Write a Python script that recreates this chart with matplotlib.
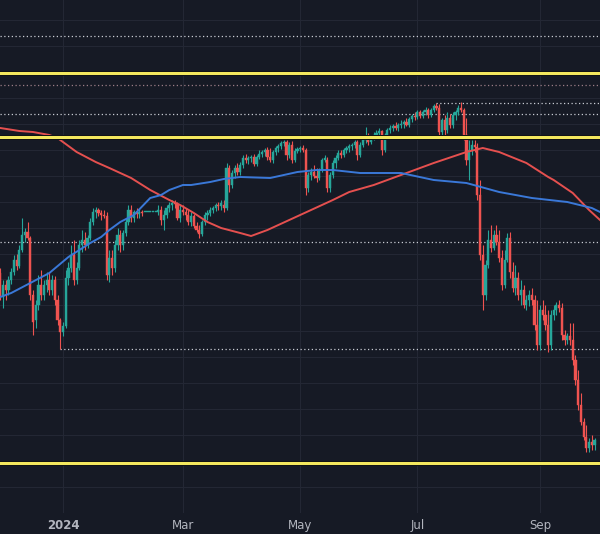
import numpy as np
import matplotlib.pyplot as plt
import matplotlib.patheffects as pe

# daily candles, price units (chart has no price scale)
opens = [32.7, 30.3, 31.5, 31.0, 32.0, 32.8, 34.0, 33.4, 35.0, 36.5, 36.8, 36.2, 30.5, 28.0, 29.5, 31.5, 30.5, 31.5, 32.0, 31.0,
         32.0, 30.0, 28.0, 26.8, 27.4, 32.2, 33.2, 34.5, 32.0, 33.2, 35.5, 36.0, 35.5, 36.2, 37.8, 38.8, 39.0, 38.7, 38.5, 38.4,
         32.5, 34.2, 33.2, 35.5, 36.5, 35.5, 36.7, 37.8, 39.0, 38.2, 38.8, 38.6, 38.8, 38.8, 38.8, 38.8, 38.8, 38.8, 38.8, 39.0,
         38.0, 38.5, 39.2, 39.5, 39.7, 39.6, 38.2, 39.0, 38.8, 38.5, 37.8, 38.4, 37.4, 37.0, 36.6, 37.8, 38.5, 38.7, 39.0, 39.2,
         39.5, 39.4, 39.5, 39.2, 43.2, 41.5, 42.7, 43.2, 42.8, 43.5, 44.2, 44.0, 44.2, 44.3, 43.6, 44.3, 44.6, 44.8, 45.0, 44.3,
         44.0, 44.8, 45.2, 45.4, 45.7, 45.8, 44.5, 45.5, 44.0, 44.9, 45.1, 45.2, 45.0, 41.2, 42.5, 42.8, 42.4, 42.2, 43.0, 44.0,
         44.0, 41.2, 42.5, 43.7, 44.2, 44.7, 44.5, 45.0, 45.2, 45.4, 45.5, 45.8, 44.5, 45.5, 46.0, 46.3, 45.8, 46.3, 46.5, 46.7,
         46.9, 45.0, 46.5, 47.0, 47.2, 47.4, 47.2, 47.5, 47.6, 47.8, 47.5, 48.1, 48.4, 48.3, 48.8, 48.4, 48.8, 49.0, 48.5, 49.0,
         49.4, 49.2, 46.8, 48.0, 47.0, 48.2, 47.5, 48.5, 48.8, 49.2, 49.0, 46.5, 44.0, 45.0, 45.5, 45.3, 40.5, 34.5, 30.5, 33.5,
         36.0, 35.2, 36.5, 35.8, 34.2, 31.5, 34.0, 36.2, 32.8, 31.2, 32.2, 30.5, 31.0, 29.5, 30.0, 30.5, 30.0, 27.5, 25.5, 29.0,
         28.5, 27.5, 25.5, 28.5, 29.0, 29.5, 29.2, 26.5, 26.0, 26.4, 26.0, 24.0, 22.0, 19.5, 17.8, 16.3, 15.2, 15.8, 15.5]
highs = [33.2, 32.0, 32.0, 32.4, 33.2, 34.5, 34.6, 35.5, 38.2, 37.2, 37.8, 36.4, 31.0, 30.0, 32.5, 33.0, 32.0, 32.8, 32.8, 32.5,
         32.4, 30.5, 28.2, 27.8, 33.0, 33.8, 35.5, 36.0, 33.8, 36.0, 37.0, 36.8, 36.5, 38.2, 39.2, 39.3, 39.2, 39.0, 39.0, 38.8,
         35.0, 35.0, 36.0, 37.2, 37.0, 37.0, 38.2, 39.5, 39.5, 39.0, 39.2, 39.1, 39.0, 38.8, 38.8, 38.8, 38.8, 38.8, 39.5, 39.4,
         39.0, 39.5, 39.8, 40.0, 40.0, 39.8, 39.5, 39.5, 39.2, 39.0, 38.8, 38.6, 37.8, 37.5, 38.0, 38.8, 39.0, 39.3, 39.4, 39.7,
         39.8, 40.0, 40.0, 43.7, 43.5, 43.0, 43.5, 43.7, 43.8, 44.5, 44.6, 44.4, 44.5, 44.6, 44.5, 45.0, 45.0, 45.2, 45.3, 45.2,
         45.0, 45.4, 45.6, 45.9, 46.0, 46.0, 45.8, 45.9, 45.2, 45.3, 45.4, 45.5, 45.2, 42.8, 43.2, 43.5, 43.2, 43.2, 44.2, 44.5,
         44.3, 42.8, 44.0, 44.5, 45.0, 45.0, 45.2, 45.4, 45.6, 45.7, 46.0, 46.0, 45.8, 46.2, 47.3, 46.7, 46.5, 46.8, 47.0, 47.2,
         47.0, 46.7, 47.2, 47.5, 47.6, 47.8, 47.7, 48.0, 48.0, 48.2, 48.3, 48.6, 48.8, 49.0, 49.0, 49.0, 49.3, 49.2, 49.2, 49.6,
         49.7, 49.6, 48.2, 48.5, 48.8, 48.6, 48.8, 49.0, 49.5, 49.8, 49.2, 48.2, 46.0, 46.0, 46.0, 45.7, 42.0, 35.5, 34.0, 37.0,
         37.5, 37.0, 37.5, 37.0, 35.0, 35.0, 36.7, 36.8, 33.8, 33.5, 32.8, 32.0, 31.5, 30.5, 31.0, 31.2, 30.5, 30.0, 29.5, 30.0,
         29.5, 29.0, 29.0, 29.5, 29.8, 30.0, 29.7, 27.0, 26.7, 27.7, 27.7, 24.5, 23.0, 20.7, 18.2, 17.5, 16.2, 16.5, 16.2]
lows = [30.0, 29.2, 30.0, 30.5, 31.6, 32.5, 33.0, 33.2, 34.8, 35.8, 36.0, 30.0, 26.5, 27.2, 29.0, 30.0, 30.0, 30.8, 30.5, 30.5,
        29.5, 27.5, 25.1, 26.4, 27.2, 31.5, 32.8, 31.5, 31.6, 33.0, 34.8, 35.0, 35.2, 36.0, 37.5, 38.2, 38.4, 38.0, 38.2, 32.0,
        31.8, 32.5, 32.8, 35.0, 34.8, 35.0, 36.4, 37.5, 37.8, 37.8, 38.2, 38.2, 38.4, 38.8, 38.8, 38.8, 38.8, 38.8, 38.5, 37.5,
        37.0, 38.2, 38.8, 39.0, 39.2, 38.0, 37.8, 38.5, 38.0, 37.5, 37.4, 37.2, 36.8, 36.2, 36.4, 37.5, 38.0, 38.4, 38.7, 38.9,
        39.0, 39.0, 38.8, 39.0, 40.8, 41.2, 42.2, 42.5, 42.5, 43.2, 43.7, 43.6, 43.8, 43.4, 43.4, 44.1, 44.3, 44.4, 44.0, 43.8,
        43.7, 44.5, 44.8, 45.1, 45.4, 44.0, 44.2, 43.7, 43.8, 44.7, 44.8, 44.8, 40.5, 40.8, 42.0, 42.2, 41.8, 42.0, 42.8, 43.8,
        40.8, 40.8, 42.2, 43.2, 44.0, 44.2, 44.3, 44.7, 44.8, 45.0, 45.2, 44.0, 44.3, 45.3, 45.7, 45.5, 45.6, 46.0, 46.2, 46.4,
        44.5, 44.8, 46.3, 46.7, 46.9, 47.0, 46.9, 47.2, 47.2, 47.4, 47.3, 47.8, 48.0, 48.1, 48.2, 48.2, 48.5, 48.2, 48.3, 48.8,
        49.0, 46.3, 46.3, 46.5, 46.7, 47.2, 47.2, 48.0, 48.5, 48.8, 46.0, 43.5, 42.0, 44.5, 44.8, 40.0, 34.0, 29.0, 30.0, 33.2,
        34.8, 35.0, 35.5, 33.8, 31.0, 31.2, 33.8, 32.2, 30.8, 30.5, 30.0, 29.5, 29.2, 29.0, 29.4, 29.5, 27.0, 25.0, 25.0, 28.0,
        27.0, 24.8, 25.0, 28.0, 28.5, 28.8, 26.0, 25.5, 25.6, 25.5, 23.5, 21.5, 19.0, 17.5, 16.0, 14.8, 14.8, 15.0, 15.0]
closes = [30.3, 31.5, 31.0, 32.0, 32.8, 34.0, 33.4, 35.0, 36.5, 36.8, 36.2, 30.5, 27.8, 29.5, 31.5, 30.5, 31.5, 32.0, 31.0, 32.0,
          30.0, 28.0, 26.8, 27.4, 32.2, 33.2, 34.5, 32.0, 33.2, 35.5, 36.0, 35.5, 36.2, 37.8, 38.8, 39.0, 38.7, 38.5, 38.4, 32.5,
          34.2, 33.2, 35.5, 36.5, 35.5, 36.7, 37.8, 39.0, 38.2, 38.8, 38.6, 38.8, 38.7, 38.8, 38.8, 38.8, 38.8, 38.8, 39.0, 38.0,
          38.5, 39.2, 39.5, 39.7, 39.6, 38.2, 39.0, 38.8, 38.5, 37.8, 38.4, 37.4, 37.0, 36.6, 37.8, 38.5, 38.7, 39.0, 39.2, 39.5,
          39.4, 39.7, 39.2, 43.2, 41.5, 42.7, 43.2, 42.8, 43.5, 44.2, 44.0, 44.2, 44.3, 43.6, 44.3, 44.6, 44.8, 45.0, 44.3, 44.0,
          44.8, 45.2, 45.4, 45.7, 45.8, 44.5, 45.5, 44.0, 44.9, 45.1, 45.2, 45.0, 41.2, 42.5, 42.8, 42.4, 42.2, 43.0, 44.0, 44.2,
          41.2, 42.5, 43.7, 44.2, 44.7, 44.5, 45.0, 45.2, 45.4, 45.5, 45.8, 44.5, 45.5, 46.0, 46.3, 45.8, 46.3, 46.5, 46.7, 46.9,
          45.0, 46.5, 47.0, 47.2, 47.4, 47.2, 47.5, 47.6, 47.8, 47.5, 48.1, 48.4, 48.3, 48.8, 48.4, 48.8, 49.0, 48.5, 49.0, 49.4,
          49.2, 46.8, 48.0, 47.0, 48.2, 47.5, 48.5, 48.8, 49.2, 49.0, 46.5, 44.0, 45.0, 45.5, 45.3, 40.5, 34.5, 30.5, 33.5, 36.0,
          35.2, 36.5, 35.8, 34.2, 31.5, 34.0, 36.2, 32.8, 31.2, 32.2, 30.5, 31.0, 29.5, 30.0, 30.5, 30.0, 27.5, 25.5, 29.0, 28.5,
          27.5, 25.5, 28.5, 29.0, 29.5, 29.2, 26.5, 26.0, 26.4, 26.0, 24.0, 22.0, 19.5, 17.8, 16.3, 15.2, 15.8, 15.5, 16.0]

# moving averages, read at sample bars
red_ma_bars = [0, 7, 12, 18, 21, 28, 35, 40, 48, 55, 62, 66, 71, 76, 81, 88, 92, 98, 110, 122, 128, 137, 142, 147,
               159, 171, 177, 183, 193, 201, 203, 210, 216, 220]
red_ma = [47.2, 46.9, 46.8, 46.5, 46.2, 44.8, 43.8, 43.2, 42.2, 41.0, 40.0, 39.5, 38.7, 37.8, 37.2, 36.7, 36.4, 37.0,
          38.5, 40.0, 40.8, 41.5, 42.0, 42.5, 43.7, 44.8, 45.2, 44.8, 43.7, 42.3, 42.0, 40.7, 39.0, 38.0]
blue_ma_bars = [0, 4, 11, 18, 25, 33, 37, 40, 44, 49, 55, 59, 62, 67, 70, 77, 82, 88, 99, 109, 116, 122, 132, 147,
                159, 171, 183, 195, 208, 217, 220]
blue_ma = [30.3, 30.7, 31.7, 32.7, 34.3, 35.7, 36.3, 37.0, 37.8, 38.5, 40.2, 40.5, 41.0, 41.5, 41.5, 41.8, 42.1, 42.3,
           42.2, 42.8, 43.0, 43.0, 42.7, 42.7, 42.0, 41.7, 40.8, 40.2, 39.8, 39.2, 38.8]

# drawn levels
yellow_levels = [52.7, 46.3, 13.7]
dotted_levels = [56.4, 48.6, 35.8]
red_dotted_level = 51.5
low_ray = (22, 25.1)    # start bar, level
high_ray = (160, 49.7)

month_ticks = [23, 67, 110, 153, 198]
month_labels = ['2024', 'Mar', 'May', 'Jul', 'Sep']

bg = '#161a25'
up_col = '#26a69a'
down_col = '#ef5350'

fig = plt.figure(figsize=(6, 5.34), dpi=100, facecolor=bg)
ax = fig.add_axes([0, 21 / 534, 1, 513 / 534], facecolor=bg)

# grid
grid_y = np.arange(58.0, 8.0, -2.595)
ax.set_yticks(grid_y)
ax.set_xticks(month_ticks)
ax.set_xticklabels(month_labels)
ax.grid(True, color='#232734', lw=0.8)
ax.tick_params(axis='y', left=False, labelleft=False)
ax.tick_params(axis='x', length=0, pad=4, colors='#b2b5be', labelsize=8.5)
ax.get_xticklabels()[0].set_fontweight('bold')
for s in ax.spines.values():
    s.set_visible(False)

# levels
for lv in dotted_levels:
    ax.axhline(lv, color='#c9ccd4', lw=0.9, ls=(0, (1, 2)), zorder=2)
ax.axhline(red_dotted_level, color='#9c7d86', lw=0.9, ls=(0, (1, 2)), zorder=2)
ax.hlines(low_ray[1], low_ray[0], 230, color='#c9ccd4', lw=0.9, ls=(0, (1, 2)), zorder=2)
ax.hlines(high_ray[1], high_ray[0], 230, color='#c9ccd4', lw=0.9, ls=(0, (1, 2)), zorder=2)

# candles
x = np.arange(len(closes))
o = np.array(opens)
c = np.array(closes)
h = np.array(highs)
l = np.array(lows)
cols = np.where(c >= o, up_col, down_col)
ax.vlines(x, l, h, colors=cols, lw=0.8, zorder=3)
body = np.maximum(np.abs(c - o), 0.1)
ax.bar(x, body, bottom=np.minimum(o, c), width=0.8, color=cols, edgecolor=cols, lw=0.3, zorder=4)

# moving averages
ax.plot(red_ma_bars, red_ma, color='#e5504f', lw=1.4, zorder=5)
ax.plot(blue_ma_bars, blue_ma, color='#3a78d8', lw=1.4, zorder=5)

for lv in yellow_levels:
    ax.axhline(lv, color='#f4e85e', lw=2.2, zorder=6,
               path_effects=[pe.Stroke(linewidth=3.6, foreground='#0c0e13'), pe.Normal()])

ax.set_xlim(-0.11, 220.0)
ax.set_ylim(8.7, 60.0)

fig.savefig('out.png', dpi=100, facecolor=bg)
